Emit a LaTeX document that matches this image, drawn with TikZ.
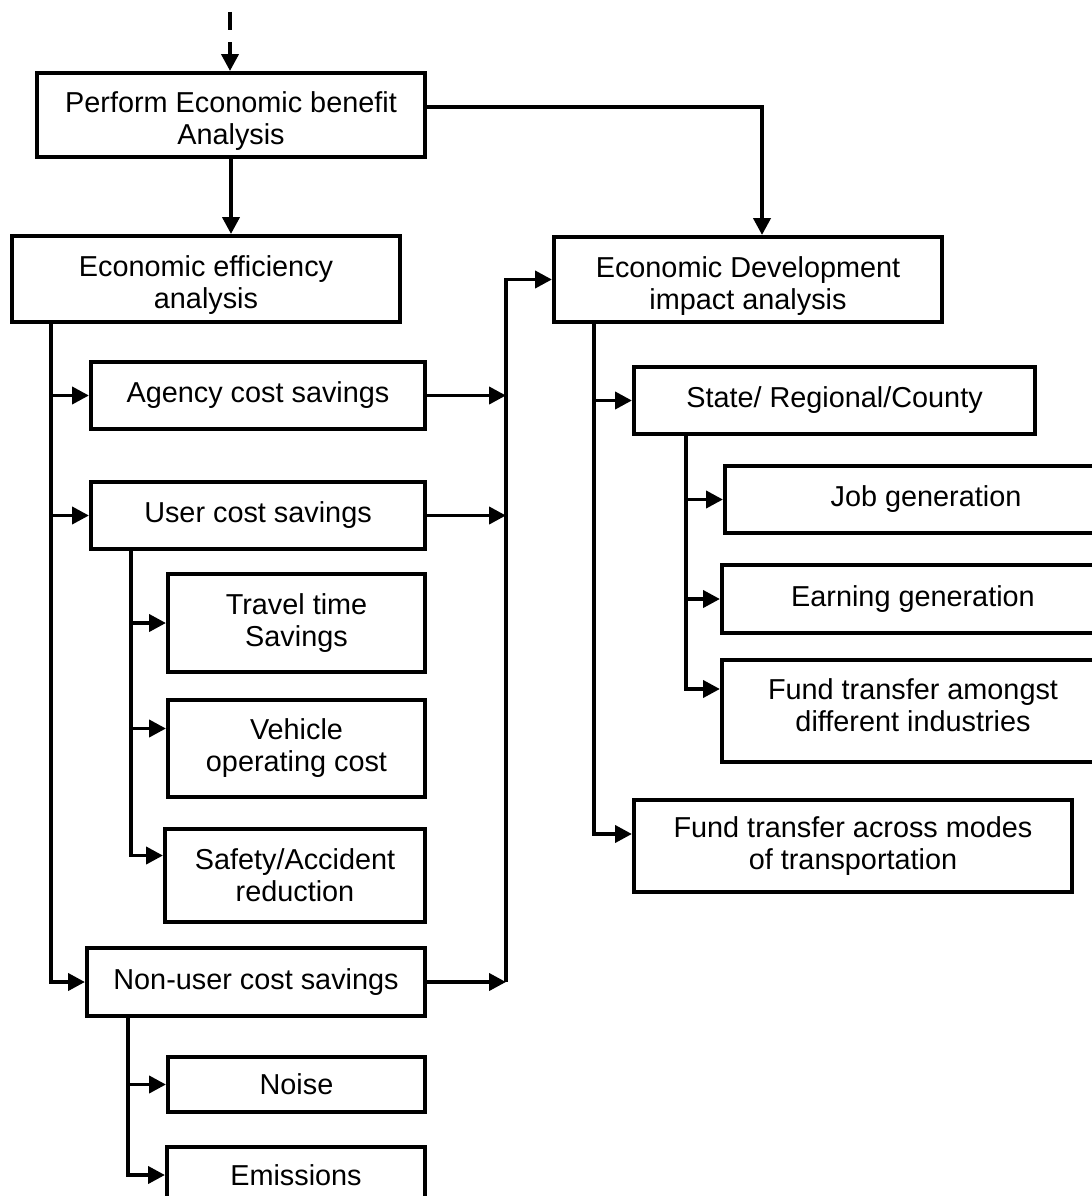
\documentclass[tikz,border=0pt]{standalone}
\usepackage{fontspec}
\setmainfont{Liberation Sans}
\usetikzlibrary{arrows.meta}
\newcommand{\toppad}{\rule{0pt}{23.5pt}}
\newcommand{\botpad}{\rule[-8.5pt]{0pt}{0pt}}

\begin{document}
\begin{tikzpicture}[x=0.025cm, y=-0.025cm,
  box/.style={draw, line width=2.8pt, align=center, inner sep=0pt, font=\fontsize{20.5}{22.8}\selectfont},
  link/.style={line width=2.8pt},
  arr/.style={link, -{Triangle[length=12pt,width=12pt]}}]
\useasboundingbox (0,0) rectangle (1091,1196);

% Draw the boxes
\node[box, minimum width=9.7cm, minimum height=2.1cm] (perform) at (231,115) {\toppad Perform Economic benefit\\Analysis};
\node[box, minimum width=9.7cm, minimum height=2.15cm] (effic) at (206,279) {\toppad Economic efficiency\\analysis};
\node[box, minimum width=9.7cm, minimum height=2.125cm] (devel) at (748,279.5) {\toppad Economic Development\\impact analysis};
\node[box, minimum width=8.35cm, minimum height=1.675cm] (agency) at (258,395.5) {Agency cost savings};
\node[box, minimum width=8.35cm, minimum height=1.675cm] (user) at (258,515.5) {User cost savings};
\node[box, minimum width=6.425cm, minimum height=2.45cm] (travel) at (296.5,623) {Travel time\\Savings};
\node[box, minimum width=6.425cm, minimum height=2.425cm] (vehicle) at (296.5,748.5) {Vehicle\\operating cost};
\node[box, minimum width=6.5cm, minimum height=2.325cm] (safety) at (295,875.5) {Safety/Accident\\reduction};
\node[box, minimum width=8.45cm, minimum height=1.7cm] (nonuser) at (256,982) {Non-user cost savings};
\node[box, minimum width=6.425cm, minimum height=1.375cm] (noise) at (296.5,1084.5) {Noise};
\node[box, minimum width=6.45cm, minimum height=1.4cm] (emis) at (296,1175) {Emissions};
\node[box, minimum width=10.025cm, minimum height=1.675cm] (state) at (834.5,400.5) {State/ Regional/County};
\node[box, minimum width=10.05cm, minimum height=1.675cm] (job) at (926,499.5) {Job generation};
\node[box, minimum width=9.55cm, minimum height=1.7cm] (earn) at (913,599) {Earning generation};
\node[box, minimum width=9.55cm, minimum height=2.55cm] (amongst) at (913,711) {Fund transfer amongst\\different industries\botpad};
\node[box, minimum width=10.95cm, minimum height=2.3cm] (across) at (853,846) {Fund transfer across modes\\of transportation};

% Trunk lines and helper points
\coordinate (start) at (230,12);
\coordinate (lt) at (51,322);
\coordinate (ut) at (131,549);
\coordinate (nt) at (128,1016);
\coordinate (coll) at (506,281);
\coordinate (rt) at (594,322);
\coordinate (st) at (686,434);
\coordinate (vin) at ([yshift=0.5cm]vehicle.west);
\coordinate (sin) at ([yshift=0.5cm]safety.west);
\coordinate (ain) at ([yshift=0.55cm]amongst.west);
\coordinate (cin) at ([yshift=0.3cm]across.west);

% Top connectors
\draw[arr, dash pattern=on 13pt off 8.5pt] (start) -- (start |- perform.north);
\draw[arr] (perform.south) -- (perform.south |- effic.north);
\draw[arr] ([yshift=0.2cm]perform.east) -| ([xshift=0.35cm]devel.north);

% Economic efficiency branch
\draw[arr] (lt) |- (nonuser.west);
\draw[arr] (lt |- agency.west) -- (agency.west);
\draw[arr] (lt |- user.west) -- (user.west);
\draw[arr] (ut) |- (sin);
\draw[arr] (ut |- travel.west) -- (travel.west);
\draw[arr] (ut |- vin) -- (vin);
\draw[arr] (nt) |- (emis.west);
\draw[arr] (nt |- noise.west) -- (noise.west);

% Collector to development box
\draw[arr] (nonuser.east -| coll) |- (devel.west);
\draw[arr] (agency.east) -- (agency.east -| coll);
\draw[arr] (user.east) -- (user.east -| coll);
\draw[arr] (nonuser.east) -- (nonuser.east -| coll);

% Economic development branch
\draw[arr] (rt) |- (cin);
\draw[arr] (rt |- state.west) -- (state.west);
\draw[arr] (st) |- (ain);
\draw[arr] (st |- job.west) -- (job.west);
\draw[arr] (st |- earn.west) -- (earn.west);
\end{tikzpicture}
\end{document}
